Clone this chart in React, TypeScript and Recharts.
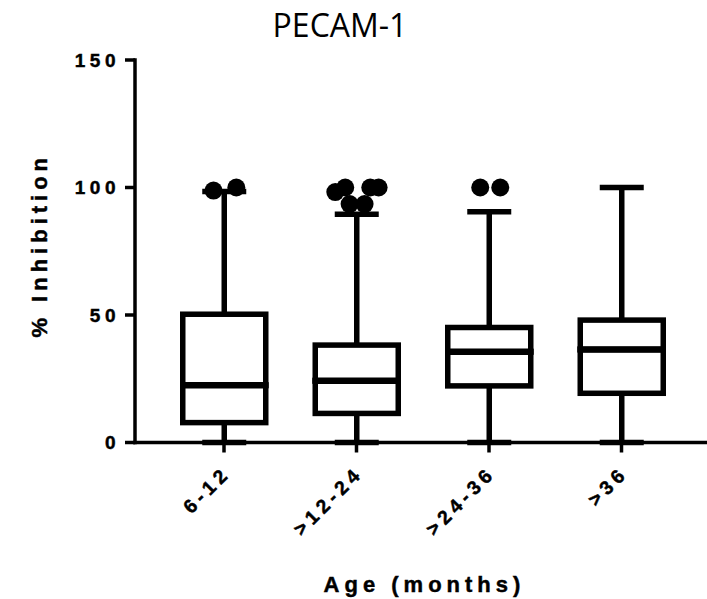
import React from 'react';
import { ComposedChart, Bar, Scatter, XAxis, YAxis, Label } from 'recharts';

// ---- data ----
const categories = ['6-12', '>12-24', '>24-36', '>36'];
const minValues = [0, 0, 0, 0];
const q1Values = [7.8, 11.4, 22.2, 19.3];
const medianValues = [22.5, 24.2, 35.6, 36.5];
const q3Values = [50.3, 38.2, 45.1, 48.0];
const maxValues = [98.4, 89.5, 90.5, 100];
const yTicks = [0, 50, 100, 150];

const outlierGroups = [0, 0, 1, 1, 1, 1, 1, 1, 2, 2];
const outlierOffsets = [-0.081, 0.091, -0.162, -0.087, 0.102, 0.165, -0.054, 0.059, -0.068, 0.083];
const outlierValues = [98.8, 100, 98.2, 100, 100, 100, 93.5, 93.5, 100, 100];

const boxData = categories.map((name, i) => ({
  name,
  base: minValues[i],
  lowWhisker: q1Values[i] - minValues[i],
  lowBox: medianValues[i] - q1Values[i],
  highBox: q3Values[i] - medianValues[i],
  highWhisker: maxValues[i] - q3Values[i],
}));

const outliers = outlierGroups.map((g, i) => ({ x: g + outlierOffsets[i], y: outlierValues[i] }));

// ---- styles ----
const INK = '#000';
const SW = 5.5;
const CAP = 22;
const AXIS_FONT = 'Liberation Sans, Arial, Helvetica, sans-serif';

const EmptyShape = () => <g />;

const LowWhisker = (p: any) => {
  const cx = p.x + p.width / 2;
  const bottom = p.y + p.height;
  return (
    <g>
      <line x1={cx} x2={cx} y1={p.y} y2={bottom} stroke={INK} strokeWidth={SW} />
      <line x1={cx - CAP} x2={cx + CAP} y1={bottom} y2={bottom} stroke={INK} strokeWidth={SW} />
    </g>
  );
};

const HighWhisker = (p: any) => {
  const cx = p.x + p.width / 2;
  const bottom = p.y + p.height;
  return (
    <g>
      <line x1={cx} x2={cx} y1={p.y} y2={bottom} stroke={INK} strokeWidth={SW} />
      <line x1={cx - CAP} x2={cx + CAP} y1={p.y} y2={p.y} stroke={INK} strokeWidth={SW} />
    </g>
  );
};

const BoxPart = (p: any) => (
  <rect x={p.x} y={p.y} width={p.width} height={p.height} fill="#fff" stroke={INK} strokeWidth={SW} />
);

const BoxUpper = (p: any) => {
  const bottom = p.y + p.height;
  return (
    <g>
      <rect x={p.x} y={p.y} width={p.width} height={p.height} fill="#fff" stroke={INK} strokeWidth={SW} />
      <line x1={p.x - SW / 2} x2={p.x + p.width + SW / 2} y1={bottom} y2={bottom} stroke={INK} strokeWidth={6.5} />
    </g>
  );
};

const OutlierDot = (p: any) => <circle cx={p.cx} cy={p.cy} r={9} fill={INK} />;

const boldText = {
  fontFamily: AXIS_FONT,
  fontWeight: 'bold' as const,
  fill: INK,
  stroke: INK,
  strokeWidth: 0.45,
};

const YTick = (p: any) => (
  <text
    x={p.x}
    y={p.y}
    textAnchor="end"
    dominantBaseline="central"
    fontSize={19}
    letterSpacing={4.5}
    {...boldText}
  >
    {p.payload.value}
  </text>
);

const XTick = (p: any) => (
  <g transform={`translate(${p.x + 7.5},${p.y + 20})`}>
    <text x={0} y={0} textAnchor="end" transform="rotate(-45)" fontSize={19.5} letterSpacing={4.5} {...boldText}>
      {p.payload.value}
    </text>
  </g>
);

const XTitle = (p: any) => {
  const vb = p.viewBox;
  return (
    <text
      x={vb.x + vb.width / 2 + 3.5}
      y={vb.y + 149}
      textAnchor="middle"
      fontSize={22}
      letterSpacing={5}
      {...boldText}
    >
      Age (months)
    </text>
  );
};

const YTitle = (p: any) => {
  const vb = p.viewBox;
  const x = vb.x + 47;
  const y = vb.y + vb.height / 2 - 6;
  return (
    <text
      x={x}
      y={y}
      textAnchor="middle"
      transform={`rotate(-90, ${x}, ${y})`}
      fontSize={22}
      letterSpacing={5}
      {...boldText}
    >
      % Inhibition
    </text>
  );
};

const axisLineStyle = { stroke: INK, strokeWidth: 3.5, strokeLinecap: 'square' as const };
const tickLineStyle = { stroke: INK, strokeWidth: 3.5 };

export default function App() {
  return (
    <div style={{ position: 'absolute', left: 0, top: 0, width: 707, height: 599, background: '#fff' }}>
      <svg width={707} height={50} style={{ position: 'absolute', left: 0, top: 0 }}>
        <text
          x={340}
          y={37}
          textAnchor="middle"
          fontFamily="Open Sans, Noto Sans, sans-serif"
          fontSize={32}
          fill={INK}
        >
          PECAM-1
        </text>
      </svg>
      <div style={{ position: 'absolute', left: 0, top: 0 }}>
        <ComposedChart
          width={707}
          height={599}
          data={boxData}
          margin={{ top: 60, right: 0, bottom: 0, left: 0 }}
          barSize={83}
        >
          <XAxis
            xAxisId="cat"
            dataKey="name"
            type="category"
            padding={{ left: 22.75, right: 19.25 }}
            height={156.5}
            interval={0}
            tickSize={10}
            tickMargin={2}
            axisLine={axisLineStyle}
            tickLine={tickLineStyle}
            tick={<XTick />}
          >
            <Label content={<XTitle />} />
          </XAxis>
          <XAxis
            xAxisId="num"
            dataKey="x"
            type="number"
            domain={[-0.6736, 3.6434]}
            allowDataOverflow
            hide
          />
          <YAxis
            domain={[0, 150]}
            ticks={yTicks}
            width={135}
            interval={0}
            tickSize={10}
            tickMargin={5}
            axisLine={axisLineStyle}
            tickLine={tickLineStyle}
            tick={<YTick />}
          >
            <Label content={<YTitle />} />
          </YAxis>
          <Bar xAxisId="cat" dataKey="base" stackId="box" isAnimationActive={false} shape={<EmptyShape />} />
          <Bar xAxisId="cat" dataKey="lowWhisker" stackId="box" isAnimationActive={false} shape={<LowWhisker />} />
          <Bar xAxisId="cat" dataKey="lowBox" stackId="box" isAnimationActive={false} shape={<BoxPart />} />
          <Bar xAxisId="cat" dataKey="highBox" stackId="box" isAnimationActive={false} shape={<BoxUpper />} />
          <Bar xAxisId="cat" dataKey="highWhisker" stackId="box" isAnimationActive={false} shape={<HighWhisker />} />
          <Scatter
            xAxisId="num"
            data={outliers}
            dataKey="y"
            isAnimationActive={false}
            shape={<OutlierDot />}
          />
        </ComposedChart>
      </div>
    </div>
  );
}
